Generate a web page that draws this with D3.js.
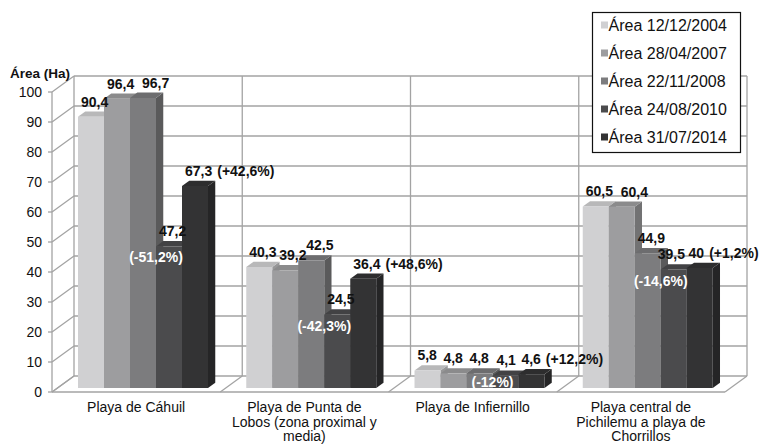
<!DOCTYPE html>
<html>
<head>
<meta charset="utf-8">
<script src="https://cdn.jsdelivr.net/npm/d3@7"></script>
<style>
  body { margin: 0; background: #fff; }
  text { font-family: "Liberation Sans", Arial, sans-serif; }
</style>
</head>
<body>
<svg id="chart" width="759" height="445"></svg>
<script>
(function(){
    // data
    const categories = [
        "Playa de Cáhuil",
        "Playa de Punta de\nLobos (zona proximal y\nmedia)",
        "Playa de Infiernillo",
        "Playa central de\nPichilemu a playa de\nChorrillos"
    ];
    const seriesNames = ["Área 12/12/2004", "Área 28/04/2007", "Área 22/11/2008", "Área 24/08/2010", "Área 31/07/2014"];
    const area2004 = [90.4, 40.3, 5.8, 60.5];
    const area2007 = [96.4, 39.2, 4.8, 60.4];
    const area2008 = [96.7, 42.5, 4.8, 44.9];
    const area2010 = [47.2, 24.5, 4.1, 39.5];
    const area2014 = [67.3, 36.4, 4.6, 40];
    const change2010 = ["(-51,2%)", "(-42,3%)", "(-12%)", "(-14,6%)"];
    const change2014 = ["(+42,6%)", "(+48,6%)", "(+12,2%)", "(+1,2%)"];
    const yTicks = d3.range(0, 101, 10);

    const seriesValues = [area2004, area2007, area2008, area2010, area2014];
    const colors = ["#d0d0d2", "#9d9d9f", "#7c7c7e", "#4b4b4d", "#333334"];
    // small hand nudges for value labels (px), like in the original
    const labelDx = [[0,0,9,0,0],[0,4,5,0,0],[-4,-4,-4,-3,-4],[0,9,0,-6,-7]];

    const svg = d3.select("#chart");
    const fmt = v => String(v).replace(".", ",");

    // 3D box geometry
    const y = d3.scaleLinear().domain([0, 100]).range([392, 92]);
    const xCat = d3.scaleBand().domain(d3.range(categories.length)).range([52, 725]);
    const xSer = d3.scaleBand().domain(d3.range(seriesNames.length)).range([20.5, 150.5]);
    const DX = 22, DY = -16;          // depth vector of the wall
    const z0 = 0.25, z1 = 0.58;       // bar depth within the box
    const P = (x, v, z) => [x + z * DX, y(v) + z * DY];
    const poly = pts => pts.map(p => p.join(",")).join(" ");

    const gridCol = "#a3a3a3";
    const grid = svg.append("g").attr("stroke", gridCol).attr("stroke-width", 1.3).attr("fill", "none");
    const xL = xCat.range()[0], xR = xCat.range()[1];

    // back wall horizontal lines + left wall diagonals
    yTicks.forEach(t => {
        const a = P(xL, t, 1), b = P(xR, t, 1), f = P(xL, t, 0);
        grid.append("line").attr("x1", a[0]).attr("y1", a[1]).attr("x2", b[0]).attr("y2", b[1]);
        grid.append("line").attr("x1", f[0]).attr("y1", f[1]).attr("x2", a[0]).attr("y2", a[1]);
    });
    // back wall verticals & floor dividers
    const bounds = d3.range(categories.length + 1).map(i => xL + i * xCat.step());
    bounds.forEach(bx => {
        const a = P(bx, 0, 1), b = P(bx, 100, 1), f = P(bx, 0, 0);
        grid.append("line").attr("x1", a[0]).attr("y1", a[1]).attr("x2", b[0]).attr("y2", b[1]);
        grid.append("line").attr("x1", f[0]).attr("y1", f[1]).attr("x2", a[0]).attr("y2", a[1]);
    });
    // floor front edge
    grid.append("line").attr("x1", xL).attr("y1", y(0)).attr("x2", xR).attr("y2", y(0));
    // front value axis
    grid.append("line").attr("x1", xL).attr("y1", y(0)).attr("x2", xL).attr("y2", y(100));
    yTicks.forEach(t => {
        grid.append("line").attr("x1", xL - 4).attr("y1", y(t)).attr("x2", xL).attr("y2", y(t));
    });

    svg.append("g").selectAll("text").data(yTicks).enter().append("text")
        .attr("x", xL - 10).attr("y", d => y(d) + 5)
        .attr("text-anchor", "end").attr("font-size", 14).attr("fill", "#111")
        .text(d => d);

    svg.append("text").attr("x", 10).attr("y", 78)
        .attr("font-size", 13.5).attr("font-weight", "bold").attr("fill", "#111")
        .text("Área (Ha)");

    // bars
    const bars = svg.append("g");
    const labels = svg.append("g").attr("font-size", 14).attr("font-weight", "bold");
    categories.forEach((c, ci) => {
        seriesValues.forEach((vals, si) => {
            const v = vals[ci];
            const x0 = xCat(ci) + xSer(si), x1 = x0 + xSer.bandwidth();
            const col = d3.color(colors[si]);
            bars.append("polygon")
                .attr("points", poly([P(x1, 0, z0), P(x1, v, z0), P(x1, v, z1), P(x1, 0, z1)]))
                .attr("fill", col.darker(0.9));
            bars.append("polygon")
                .attr("points", poly([P(x0, v, z0), P(x1, v, z0), P(x1, v, z1), P(x0, v, z1)]))
                .attr("fill", col.darker(0.35));
            bars.append("polygon")
                .attr("points", poly([P(x0, 0, z0), P(x1, 0, z0), P(x1, v, z0), P(x0, v, z0)]))
                .attr("fill", col);

            const cx = (x0 + x1) / 2 + (z0 + z1) / 2 * DX + labelDx[ci][si];
            const by = y(v) + z1 * DY - 5;
            const t = labels.append("text").attr("x", cx).attr("y", by)
                .attr("text-anchor", "middle").attr("fill", "#111").text(fmt(v));
            if (si === 4) {
                const w = t.node().getComputedTextLength();
                labels.append("text").attr("x", cx + w / 2 + 5).attr("y", by)
                    .attr("fill", "#111").text(change2014[ci]);
            }
        });
        // white change label at the 2008/2010 border
        const xb = xCat(ci) + xSer(3) + z0 * DX;
        const cy = Math.min(y(area2010[ci]) + z0 * DY + 11, y(0) + z0 * DY - 6);
        labels.append("text").attr("x", xb).attr("y", cy + 5)
            .attr("text-anchor", "middle").attr("fill", "#fff").text(change2010[ci]);
    });

    // category labels
    const cat = svg.append("g").attr("font-size", 14).attr("fill", "#111").attr("text-anchor", "middle");
    categories.forEach((c, ci) => {
        const t = cat.append("text").attr("x", xCat(ci) + xCat.bandwidth() / 2).attr("y", 412);
        c.split("\n").forEach((line, li) => {
            t.append("tspan").attr("x", xCat(ci) + xCat.bandwidth() / 2)
                .attr("dy", li === 0 ? 0 : 14.5).text(line);
        });
    });

    // legend
    const lg = svg.append("g");
    lg.append("rect").attr("x", 592.5).attr("y", 12.5).attr("width", 148).attr("height", 140)
        .attr("fill", "#fff").attr("stroke", "#111").attr("stroke-width", 1.2);
    seriesNames.forEach((s, si) => {
        const cy = 25 + si * 28;
        lg.append("rect").attr("x", 601).attr("y", cy - 3.5).attr("width", 7).attr("height", 7).attr("fill", colors[si]);
        lg.append("text").attr("x", 608.5).attr("y", cy + 5.5)
            .attr("font-size", 16).attr("fill", "#111").text(s);
    });
})();
</script>
</body>
</html>
